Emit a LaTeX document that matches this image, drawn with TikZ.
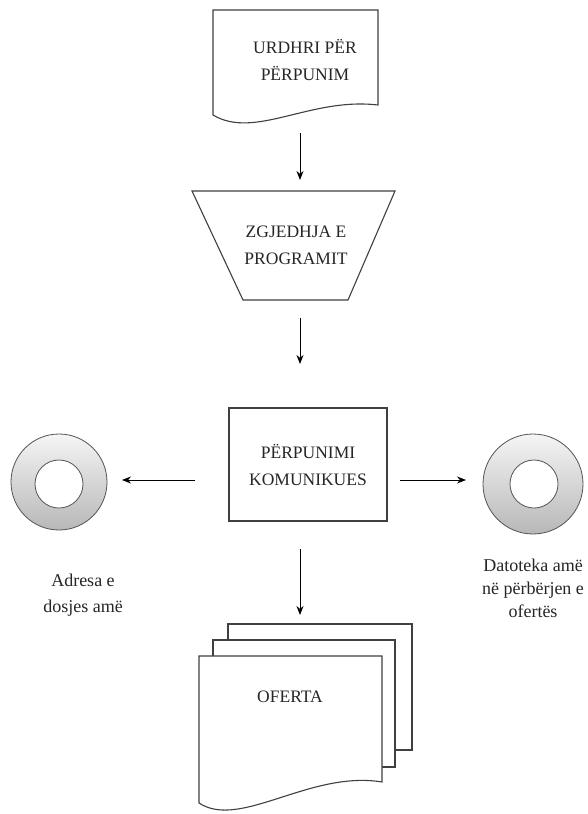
\documentclass[tikz,border=0pt]{standalone}
\usepackage{fontspec}
\setmainfont{Liberation Serif}
\usetikzlibrary{arrows.meta}
\begin{document}
\begin{tikzpicture}[x=1pt,y=-1pt,
  shapeline/.style={draw=black!75, line width=1.1pt, fill=white},
  arr/.style={draw=black, line width=0.9pt, -{Stealth[length=9pt,width=7pt]}},
  captxt/.style={font=\fontsize{17.5}{27}\selectfont, align=center, text=black!85, inner sep=0pt},
  lbltxt/.style={font=\fontsize{18}{23}\selectfont, align=center, text=black!85, inner sep=0pt},
  disk/.style={top color=gray!8, bottom color=gray!56, draw=gray!65!black, line width=0.8pt},
  hole/.style={fill=white, draw=gray!65!black, line width=0.8pt}]
\fill[white] (0,0) rectangle (587,814);
\useasboundingbox (0,0) rectangle (587,814);

% top document
\draw[shapeline] (213,115) -- (213,10) -- (378,10) -- (378,105)
  .. controls (310,97) and (255,140) .. (213,115) -- cycle;
\node[captxt] (urdhri) at (305,60) {URDHRI PËR\\PËRPUNIM};

% trapezoid
\draw[shapeline] (192,191) -- (395,191) -- (348,300) -- (243,300) -- cycle;
\node[captxt] (zgjedhja) at (296,245) {ZGJEDHJA E\\PROGRAMIT};

% process box
\node[shapeline, minimum width=158pt, minimum height=113pt, captxt] (perpunimi) at (308,464.5) {PËRPUNIMI\\KOMUNIKUES};

% stacked documents
\draw[shapeline] (228,624) rectangle (412,750);
\draw[shapeline] (213,640) rectangle (395,767);
\draw[shapeline] (199,803) -- (199,656) -- (382,656) -- (382,782)
  .. controls (310,770) and (240,830) .. (199,803) -- cycle;
\node[captxt] (oferta) at (290,697) {OFERTA};

% disks
\shade[disk] (59,482) circle (48);
\draw[hole] (59,484) circle (24);
\node[inner sep=0pt, minimum size=96pt] (diskL) at (59,482) {};
\shade[disk] (533,484) circle (50);
\draw[hole] (534,484) circle (24);
\node[inner sep=0pt, minimum size=100pt] (diskR) at (533,484) {};

% labels
\node[lbltxt, font=\fontsize{18}{26}\selectfont] (adresa) at (83,595) {Adresa e\\dosjes amë};
\node[lbltxt] (datoteka) at (533,588) {Datoteka amë\\në përbërjen e\\ofertës};

% connector coordinates
\coordinate (a1s) at (300,133);
\coordinate (a1e) at (300,180);
\coordinate (a2s) at (300,318);
\coordinate (a2e) at (300,364);
\coordinate (a3s) at (300,549);
\coordinate (a3e) at (300,615);
\coordinate (aLs) at (195,480);
\coordinate (aLe) at (122,480);
\coordinate (aRs) at (400,480);
\coordinate (aRe) at (466,480);
\draw[arr] (a1s) -- (a1e);
\draw[arr] (a2s) -- (a2e);
\draw[arr] (a3s) -- (a3e);
\draw[arr] (aLs) -- (aLe);
\draw[arr] (aRs) -- (aRe);
\end{tikzpicture}
\end{document}
